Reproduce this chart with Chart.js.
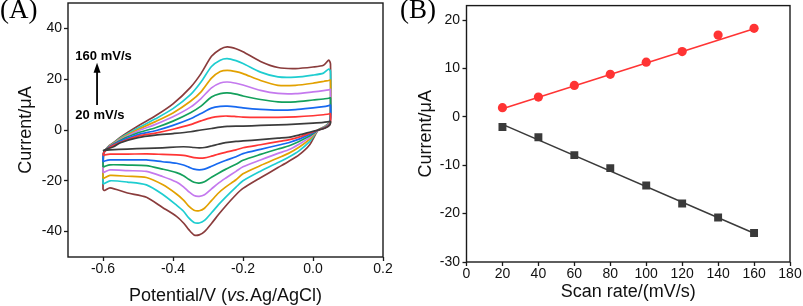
<!DOCTYPE html>
<html>
<head>
<meta charset="utf-8">
<script src="https://cdn.jsdelivr.net/npm/chart.js@4.4.1/dist/chart.umd.min.js"></script>
<style>
  html, body { margin: 0; padding: 0; background: #fff; }
  #wrap { position: relative; width: 803px; height: 306px; overflow: hidden; }
  .panel { position: absolute; top: 0; height: 306px; }
  #panelA { left: 0; width: 400px; }
  #panelB { left: 400px; width: 403px; }
</style>
</head>
<body>
<div id="wrap">
  <div class="panel" id="panelA"><canvas id="cvChart"></canvas></div>
  <div class="panel" id="panelB"><canvas id="rateChart"></canvas></div>
</div>
<script>
"use strict";

// ---- (A) cyclic voltammograms ----
// forward (anodic) sweep potentials, V
const potentialForward = [-0.6, -0.598, -0.585, -0.57, -0.55, -0.5, -0.45, -0.4, -0.35, -0.32, -0.29,
    -0.265, -0.245, -0.22, -0.2, -0.15, -0.1, -0.05, 0, 0.03, 0.045, 0.05];
// reverse (cathodic) sweep potentials, V
const potentialReverse = [0.048, 0.035, 0.015, -0.01, -0.04, -0.07, -0.1, -0.15, -0.2, -0.22, -0.25, -0.27,
    -0.29, -0.31, -0.325, -0.34, -0.355, -0.37, -0.39, -0.43, -0.476, -0.53, -0.58, -0.595, -0.6];

const cvRates = [20, 40, 60, 80, 100, 120, 140, 160];
const cvColors = ['#3c3c3c', '#ff3535', '#1769f0', '#14a05c', '#c479ee', '#e2a100', '#1ecdd0', '#8a3c3c'];

// currents, µA
const fwd20  = [-8.2, -8.0, -7.3, -6.6, -5.0, -3.0, -2.0, -1.4, -0.7, 0.0, 0.6, 1.1, 1.4, 1.5, 1.5, 1.8, 2.0, 2.3, 2.7, 3.0, 3.3, 3.4];
const fwd40  = [-10.0, -9.0, -7.2, -6.0, -4.8, -2.4, -1.2, 0.3, 2.1, 3.6, 4.9, 5.4, 5.5, 5.3, 5.1, 5.0, 5.0, 5.2, 5.6, 6.0, 6.3, 6.4];
const fwd60  = [-12.5, -9.0, -7.0, -5.8, -4.4, -1.8, -0.3, 1.8, 4.4, 6.5, 8.6, 9.3, 9.4, 9.1, 8.7, 8.1, 7.8, 8.0, 8.7, 9.2, 9.6, 9.8];
const fwd80  = [-14.6, -9.0, -6.9, -5.6, -4.0, -1.1, 0.9, 3.5, 6.8, 9.4, 13.0, 14.3, 14.6, 14.1, 13.4, 12.0, 11.1, 11.1, 11.8, 12.2, 12.5, 12.6];
const fwd100 = [-16.8, -9.0, -6.8, -5.5, -3.7, -0.4, 2.2, 5.2, 9.0, 12.4, 16.6, 18.5, 18.9, 18.4, 17.7, 15.6, 14.4, 14.3, 15.0, 15.5, 15.8, 16.0];
const fwd120 = [-19.1, -9.0, -6.7, -5.3, -3.4, 0.2, 3.3, 6.7, 11.3, 15.0, 20.4, 23.0, 23.5, 23.0, 22.2, 19.5, 17.6, 17.6, 18.4, 19.1, 19.5, 19.6];
const fwd140 = [-21.3, -9.0, -6.6, -5.2, -3.1, 0.8, 4.4, 8.4, 13.9, 18.9, 25.0, 27.5, 28.1, 27.3, 26.2, 22.8, 20.9, 20.8, 21.6, 22.4, 24.0, 23.0];
const fwd160 = [-23.5, -9.0, -6.5, -5.0, -2.8, 1.6, 5.6, 10.3, 16.8, 22.2, 29.0, 31.8, 32.7, 32.0, 30.8, 27.0, 24.6, 24.2, 24.8, 25.5, 27.5, 26.0];

const rev20  = [2.0, 0.8, 0.0, -0.9, -2.0, -2.9, -3.2, -3.8, -4.3, -4.5, -5.0, -5.6, -6.3, -6.9, -7.0, -6.9, -6.7, -6.6, -6.7, -7.0, -7.2, -7.5, -7.8, -8.0, -8.2];
const rev40  = [2.2, 0.9, 0.0, -1.3, -2.8, -3.9, -4.6, -5.8, -7.0, -7.8, -8.8, -9.5, -10.3, -11.0, -11.1, -10.9, -10.4, -10.0, -9.8, -9.6, -9.4, -9.5, -9.5, -9.8, -10.0];
const rev60  = [2.4, 1.0, 0.0, -1.7, -3.6, -5.0, -6.0, -7.6, -9.3, -10.5, -12.0, -13.1, -14.3, -15.4, -15.7, -15.4, -14.6, -13.8, -13.1, -12.5, -11.8, -11.8, -11.8, -12.2, -12.5];
const rev80  = [2.6, 1.1, 0.0, -2.4, -4.5, -6.3, -7.5, -9.6, -11.9, -13.5, -15.5, -17.0, -18.6, -20.4, -20.9, -20.6, -19.4, -18.0, -16.8, -15.4, -14.0, -13.8, -13.7, -14.3, -14.6];
const rev100 = [2.8, 1.2, 0.0, -3.0, -5.6, -7.8, -9.2, -11.8, -14.5, -16.3, -19.0, -20.9, -23.2, -25.5, -26.1, -25.8, -24.3, -22.4, -20.5, -18.3, -16.3, -16.0, -15.7, -16.5, -16.8];
const rev120 = [3.0, 1.3, 0.0, -3.7, -6.8, -9.2, -11.0, -14.0, -17.2, -19.6, -22.5, -24.8, -27.8, -30.8, -31.8, -31.6, -30.0, -27.6, -25.2, -21.5, -18.7, -18.2, -17.9, -18.8, -19.1];
const rev140 = [3.2, 1.4, 0.0, -4.6, -8.2, -10.7, -12.8, -16.2, -20.0, -22.5, -26.5, -29.4, -32.6, -35.6, -36.6, -36.4, -34.6, -32.0, -29.6, -25.3, -21.6, -20.5, -20.0, -21.0, -21.3];
const rev160 = [3.4, 1.5, 0.0, -5.9, -9.8, -12.4, -14.8, -18.8, -23.0, -25.5, -30.0, -33.3, -36.8, -40.0, -41.3, -41.3, -39.2, -36.6, -34.0, -30.5, -26.5, -24.8, -22.8, -23.8, -23.5];

const cvForward = [fwd20, fwd40, fwd60, fwd80, fwd100, fwd120, fwd140, fwd160];
const cvReverse = [rev20, rev40, rev60, rev80, rev100, rev120, rev140, rev160];

const aTicksX = [-0.6, -0.4, -0.2, 0.0, 0.2];
const aTicksY = [-40, -20, 0, 20, 40];

// ---- (B) peak current vs scan rate ----
const scanRates = [20, 40, 60, 80, 100, 120, 140, 160];
const anodicPeak = [1.9, 4.1, 6.5, 8.8, 11.3, 13.5, 16.9, 18.3];
const cathodicPeak = [-2.1, -4.2, -7.9, -10.6, -14.2, -17.9, -20.8, -24.0];
const fitRates = [20, 160];
const anodicFit = [1.7, 18.2];
const cathodicFit = [-1.55, -24.05];

const bTicksX = [0, 20, 40, 60, 80, 100, 120, 140, 160, 180];
const bTicksY = [-30, -20, -10, 0, 10, 20];

const SANS = '"Liberation Sans", Arial, sans-serif';
const INK = '#1a1a1a';

function toPoints(xs, ys) {
    return xs.map((x, i) => ({ x: x, y: ys[i] }));
}

// box round the plot area plus the panel letter
function framePlugin(letter) {
    return {
        id: 'frame' + letter,
        afterDraw(chart) {
            const { ctx, chartArea: a } = chart;
            ctx.save();
            ctx.strokeStyle = INK;
            ctx.lineWidth = 1.4;
            ctx.strokeRect(a.left, a.top, a.right - a.left, a.bottom - a.top);
            ctx.fillStyle = '#000';
            ctx.font = '27px "Liberation Serif", "Times New Roman", serif';
            ctx.textBaseline = 'alphabetic';
            ctx.textAlign = 'left';
            ctx.fillText('(' + letter + ')', 0, 18);
            ctx.restore();
        }
    };
}

// fixed-size axis; label overhang padding is dropped so the plot box sits where the figure has it
function axis(min, max, tickList, size, horizontal) {
    return {
        type: 'linear',
        min: min,
        max: max,
        afterBuildTicks(scale) {
            scale.ticks = tickList.map(v => ({ value: v }));
        },
        afterFit(scale) {
            if (horizontal) {
                scale.height = size;
                scale.paddingLeft = 0;
                scale.paddingRight = 0;
            } else {
                scale.width = size;
                scale.paddingTop = 0;
                scale.paddingBottom = 0;
            }
        },
        border: { display: false },
        grid: {
            drawOnChartArea: false,
            drawTicks: true,
            tickLength: 4,
            tickWidth: 1.3,
            tickColor: INK
        },
        ticks: {
            color: '#111',
            font: { family: SANS, size: 14 },
            maxRotation: 0,
            autoSkip: false
        }
    };
}

// ---------- chart A ----------
const cvDatasets = cvRates.map((rate, i) => ({
    label: rate + ' mV/s',
    data: toPoints(potentialForward, cvForward[i]).concat(toPoints(potentialReverse, cvReverse[i])),
    showLine: true,
    borderColor: cvColors[i],
    borderWidth: 1.7,
    pointRadius: 0,
    tension: 0.25,
    fill: false
}));

const cvAnnotation = {
    id: 'cvAnnotation',
    afterDraw(chart) {
        const { ctx } = chart;
        const xs = chart.scales.x, ys = chart.scales.y;
        ctx.save();
        // x title with italic "vs."
        const parts = [['Potential/V (', 'normal'], ['vs.', 'italic'], ['Ag/AgCl)', 'normal']];
        let total = 0;
        parts.forEach(p => { ctx.font = p[1] + ' 18px ' + SANS; total += ctx.measureText(p[0]).width; });
        let x = (chart.chartArea.left + chart.chartArea.right) / 2 - total / 2;
        ctx.fillStyle = '#111';
        ctx.textBaseline = 'middle';
        parts.forEach(p => {
            ctx.font = p[1] + ' 18px ' + SANS;
            ctx.fillText(p[0], x, 296);
            x += ctx.measureText(p[0]).width;
        });

        // scan-rate arrow and labels
        ctx.fillStyle = '#000';
        ctx.font = 'bold 13px ' + SANS;
        ctx.textBaseline = 'alphabetic';
        const tx = xs.getPixelForValue(-0.679);
        ctx.fillText('160 mV/s', tx, ys.getPixelForValue(27.6));
        ctx.fillText('20 mV/s', tx, ys.getPixelForValue(4.5));

        const ax = xs.getPixelForValue(-0.617);
        const yBot = ys.getPixelForValue(9.8);
        const yTip = ys.getPixelForValue(26.5);
        ctx.strokeStyle = '#000';
        ctx.lineWidth = 1.8;
        ctx.beginPath();
        ctx.moveTo(ax, yBot);
        ctx.lineTo(ax, yTip + 8);
        ctx.stroke();
        ctx.beginPath();
        ctx.moveTo(ax, yTip);
        ctx.lineTo(ax - 3.5, yTip + 10);
        ctx.lineTo(ax + 3.5, yTip + 10);
        ctx.closePath();
        ctx.fill();
        ctx.restore();
    }
};

const axA_x = axis(-0.7, 0.2, aTicksX, 49, true);
axA_x.ticks.padding = 0;
axA_x.ticks.callback = v => v.toFixed(1);
const axA_y = axis(-50, 50, aTicksY, 68, false);
axA_y.ticks.padding = 2;
axA_y.title = {
    display: true, text: 'Current/μA', color: '#111',
    font: { family: SANS, size: 18 }, padding: { top: 15, bottom: 0 }
};

new Chart(document.getElementById('cvChart'), {
    type: 'scatter',
    data: { datasets: cvDatasets },
    options: {
        responsive: true,
        maintainAspectRatio: false,
        animation: false,
        layout: { padding: { top: 3, right: 17, left: 0, bottom: 0 } },
        scales: { x: axA_x, y: axA_y },
        plugins: { legend: { display: false }, tooltip: { enabled: false } }
    },
    plugins: [framePlugin('A'), cvAnnotation]
});

// ---------- chart B ----------
const axB_x = axis(0, 180, bTicksX, 44, true);
axB_x.ticks.padding = 0;
axB_x.title = {
    display: true, text: 'Scan rate/(mV/s)', color: '#111',
    font: { family: SANS, size: 18 }, padding: { top: 0, bottom: 3 }
};
const axB_y = axis(-30, 23, bTicksY, 66.5, false);
axB_y.ticks.padding = 2.5;
axB_y.title = {
    display: true, text: 'Current/μA', color: '#111',
    font: { family: SANS, size: 18 }, padding: { top: 15, bottom: 0 }
};

new Chart(document.getElementById('rateChart'), {
    type: 'scatter',
    data: {
        datasets: [
            {
                label: 'anodic fit',
                data: toPoints(fitRates, anodicFit),
                showLine: true, borderColor: '#ff3434', borderWidth: 1.6, pointRadius: 0
            },
            {
                label: 'cathodic fit',
                data: toPoints(fitRates, cathodicFit),
                showLine: true, borderColor: '#3a3a3a', borderWidth: 1.6, pointRadius: 0
            },
            {
                label: 'Ipa',
                data: toPoints(scanRates, anodicPeak),
                pointStyle: 'circle', pointRadius: 4.6,
                backgroundColor: '#ff3434', borderColor: '#ff3434', borderWidth: 0
            },
            {
                label: 'Ipc',
                data: toPoints(scanRates, cathodicPeak),
                pointStyle: 'rect', pointRadius: 5.6,
                backgroundColor: '#3a3a3a', borderColor: '#3a3a3a', borderWidth: 0
            }
        ]
    },
    options: {
        responsive: true,
        maintainAspectRatio: false,
        animation: false,
        layout: { padding: { top: 3, right: 13, left: 0, bottom: 0 } },
        scales: { x: axB_x, y: axB_y },
        plugins: { legend: { display: false }, tooltip: { enabled: false } }
    },
    plugins: [framePlugin('B')]
});
</script>
</body>
</html>
